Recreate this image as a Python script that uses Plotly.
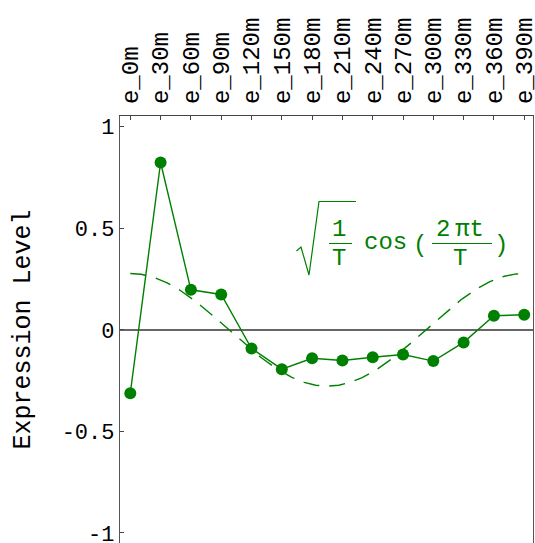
import numpy as np
import plotly.graph_objects as go

# Time points (minutes) and measured expression values
labels = ["e_0m", "e_30m", "e_60m", "e_90m", "e_120m", "e_150m", "e_180m",
          "e_210m", "e_240m", "e_270m", "e_300m", "e_330m", "e_360m", "e_390m"]
expression = [-0.312, 0.824, 0.197, 0.174, -0.092, -0.194, -0.140,
              -0.151, -0.135, -0.122, -0.154, -0.062, 0.069, 0.074]
y_ticks = [-1, -0.5, 0, 0.5, 1]
y_tick_text = ["-1", "-0.5", "0", "0.5", "1"]

GREEN = "#008000"
MONO = "Liberation Mono, Courier New, monospace"

idx = list(range(len(labels)))

# Reference cosine sqrt(1/T) cos(2 pi t / T) with T spanning the series
T = len(labels) - 1
t = np.linspace(0, T, 300)
ref = np.sqrt(1.0 / T) * np.cos(2 * np.pi * t / T)

W, H = 535, 543
L, R, TOP, B = 120, 2, 116, 0
PW, PH = W - L - R, H - TOP - B


def px(x):
    return (x - L) / PW


def py(y):
    return (H - B - y) / PH


fig = go.Figure()
fig.add_trace(go.Scatter(x=t, y=ref, mode="lines",
                         line=dict(color=GREEN, width=1.4, dash="16px,10px"),
                         hoverinfo="skip"))
fig.add_trace(go.Scatter(x=idx, y=expression, mode="lines+markers",
                         line=dict(color=GREEN, width=1.4),
                         marker=dict(color=GREEN, size=12)))

# Formula label
ann = []
def txt(s, x, y, size=24):
    ann.append(dict(text=s, x=px(x), y=py(y), xref="paper", yref="paper",
                    showarrow=False, xanchor="center", yanchor="middle",
                    font=dict(family=MONO, size=size, color=GREEN)))

txt("1", 339, 229)
txt("T", 339, 258)
txt("cos", 385, 242)
txt("(", 419.5, 245)
txt("2\u2009πt", 460, 229)
txt("T", 460, 258)
txt(")", 500.5, 245)

ann.append(dict(text="Expression Level", x=px(23), y=0.5, xref="paper", yref="paper",
                showarrow=False, textangle=-90, xanchor="center", yanchor="middle",
                font=dict(family=MONO, size=25, color="black")))

def seg(x0, y0, x1, y1, w=1):
    return dict(type="line", xref="paper", yref="paper",
                x0=px(x0), y0=py(y0), x1=px(x1), y1=py(y1),
                line=dict(color=GREEN, width=w))

radical = "M {} {} L {} {} L {} {} L {} {} L {} {}".format(
    px(296.5), py(251), px(301), py(247), px(309), py(275),
    px(319), py(201.5), px(356), py(201.5))
shapes = [
    dict(type="path", xref="paper", yref="paper", path=radical,
         line=dict(color=GREEN, width=1.2)),
    seg(329, 243.5, 352, 243.5, 1),
    seg(432, 243.5, 492, 243.5, 1),
]

fig.update_layout(
    width=W, height=H,
    margin=dict(l=L, r=R, t=TOP, b=B, pad=0, autoexpand=False),
    paper_bgcolor="white", plot_bgcolor="white",
    showlegend=False,
    annotations=ann, shapes=shapes,
    xaxis=dict(side="top", range=[-0.34, 13.29], tickvals=idx, ticktext=labels,
               tickangle=-90, ticks="inside", ticklen=4, tickcolor="#444",
               ticklabeloverflow="allow", ticklabelstandoff=6, automargin=False,
               showline=True, linecolor="#444", linewidth=1.3,
               showgrid=False, zeroline=False,
               tickfont=dict(family=MONO, size=24, color="black")),
    yaxis=dict(range=[-1.05, 1.053], tickvals=y_ticks, ticktext=y_tick_text,
               ticks="inside", ticklen=4, tickcolor="#444",
               ticklabeloverflow="allow", automargin=False,
               showline=True, linecolor="#555", linewidth=1.3, mirror=True,
               showgrid=False, zeroline=True, zerolinecolor="#666", zerolinewidth=1.5,
               tickfont=dict(family=MONO, size=22, color="black")),
)

fig.write_html("out.html")
